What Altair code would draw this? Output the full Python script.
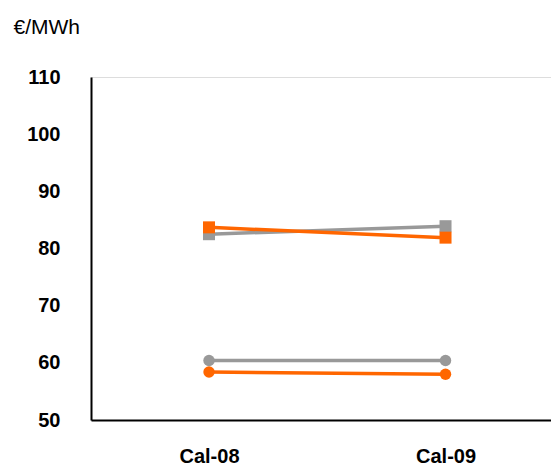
import altair as alt
import pandas as pd
import json

periods = ["Cal-08", "Cal-09"]
grey_square = [82.5, 83.9]
orange_square = [83.7, 81.9]
grey_circle = [60.4, 60.4]
orange_circle = [58.4, 58.0]

series_names = ["grey_square", "orange_square", "grey_circle", "orange_circle"]
series_values = [grey_square, orange_square, grey_circle, orange_circle]
series_colors = ["#999999", "#FF6600", "#999999", "#FF6600"]
series_shapes = ["square", "square", "circle", "circle"]
y_ticks = [50, 60, 70, 80, 90, 100, 110]

FONT = "Liberation Sans, Arial, sans-serif"

rows = []
for name, vals in zip(series_names, series_values):
    for i, (p, v) in enumerate(zip(periods, vals)):
        rows.append({"series": name, "period": p, "idx": i, "value": v})
df = pd.DataFrame(rows)

x_enc = alt.X(
    "idx:Q",
    scale=alt.Scale(domain=[-0.499, 1.446], nice=False, zero=False),
    axis=alt.Axis(
        title=None,
        values=list(range(len(periods))),
        labelExpr=json.dumps(periods) + "[datum.value]",
        labelAngle=0,
        labelFontSize=20,
        labelFont=FONT,
        labelFontWeight="bold",
        labelColor="#000000",
        labelPadding=26,
        labelFlush=False,
        ticks=False,
        domainColor="#000000",
        domainWidth=2,
        grid=False,
    ),
)
y_enc = alt.Y(
    "value:Q",
    scale=alt.Scale(domain=[50, 110], nice=False, zero=False),
    axis=alt.Axis(
        values=y_ticks,
        title="€/MWh",
        titleAngle=0,
        titleAlign="left",
        titleBaseline="alphabetic",
        titleX=-78,
        titleY=-44,
        titleFont=FONT,
        titleFontSize=21,
        titleFontWeight="normal",
        titleColor="#000000",
        labelFontSize=20,
        labelFont=FONT,
        labelFontWeight="bold",
        labelColor="#000000",
        labelPadding=31,
        ticks=False,
        domainColor="#000000",
        domainWidth=2,
        grid=False,
    ),
)

layers = []
for name, color, shape in zip(series_names, series_colors, series_shapes):
    sub = df[df["series"] == name]
    base = alt.Chart(sub)
    line = base.mark_line(color=color, strokeWidth=3.5).encode(x=x_enc, y=y_enc)
    pts = base.mark_point(
        shape=shape, filled=True, color=color, opacity=1,
        size=144 if shape == "square" else 130,
    ).encode(x=x_enc, y=y_enc)
    layers += [line, pts]

chart = alt.layer(*layers).properties(
    width=460,
    height=343,
    autosize=alt.AutoSizeParams(type="none"),
    padding={"left": 83, "top": 69, "right": 0, "bottom": 47},
).configure_view(stroke=None).configure(background="#ffffff")

chart.save("out.html", embed_options={"renderer": "svg", "actions": False})
